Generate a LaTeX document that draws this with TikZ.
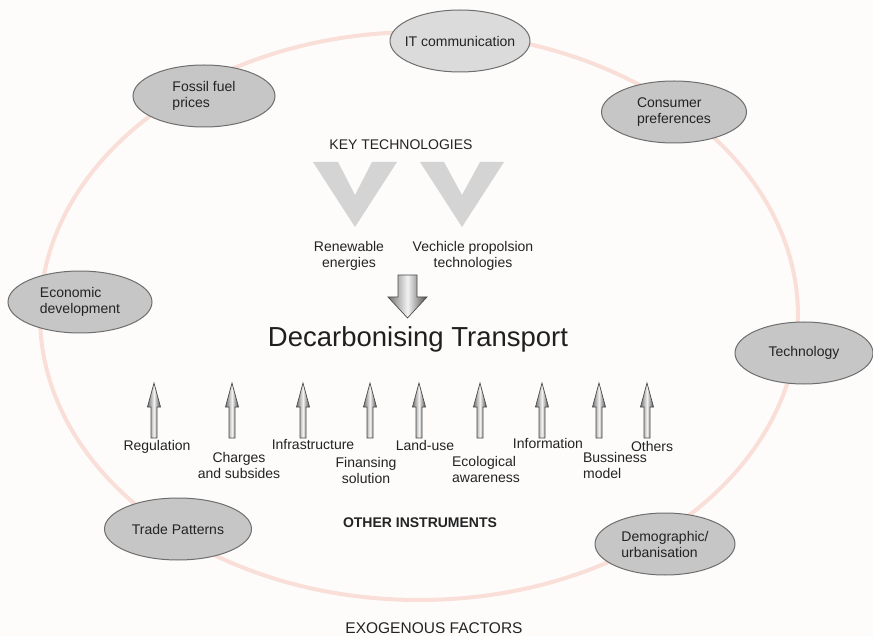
\documentclass[tikz,border=0pt]{standalone}
\usepackage{fontspec}
\setmainfont{Liberation Sans}
\definecolor{ringpink}{RGB}{250,222,216}
\definecolor{factorgray}{RGB}{198,198,198}
\definecolor{factorlight}{RGB}{219,219,219}
\definecolor{factorline}{RGB}{110,110,110}
\definecolor{vgray}{RGB}{212,212,212}
\definecolor{textgray}{RGB}{35,35,35}
\definecolor{paper}{RGB}{253,252,251}
\usetikzlibrary{
  shapes.geometric,
  positioning
}

\begin{document}
\begin{tikzpicture}[x=1pt, y=-1pt,
  factor/.style={ellipse, draw=factorline, fill=factorgray, line width=1pt,
                 inner xsep=-20pt, inner ysep=0pt, minimum height=62pt,
                 align=left, font=\fontsize{14}{16}\selectfont, text=textgray},
  lbl/.style={align=center, inner sep=0pt, font=\fontsize{14}{16}\selectfont, text=textgray},
  blockarrow/.style={draw=black!70, line width=0.7pt,
                     left color=black!55, right color=black!70, middle color=black!5}
]
% canvas
\fill[paper] (0,0) rectangle (873,636);
\useasboundingbox (0,0) rectangle (873,636);

% ring of exogenous factors
\draw[ringpink, line width=4pt] (419,316) ellipse [x radius=379pt, y radius=284pt];

% key technologies
\node[lbl] (keytech) at (401,145) {KEY TECHNOLOGIES};
\fill[vgray] (313,162) -- (338,162) -- (355,195) -- (372,162) -- (397,162) -- (355,227) -- cycle;
\fill[vgray] (420,162) -- (444,162) -- (462,195) -- (480,162) -- (504,162) -- (462,227) -- cycle;
\node[lbl] (renew) at (349,256) {Renewable\\energies};
\node[lbl] (vehicle) at (473,256) {Vechicle propolsion\\technologies};

\shade[blockarrow] (398,275) -- (417,275) -- (417,297) -- (427,297) -- (407.5,318)
  -- (388,297) -- (398,297) -- cycle;

\node[inner sep=0pt, font=\fontsize{27.5}{32}\selectfont, text=black!88] (decarb)
  at (418,339) {Decarbonising Transport};

% other instruments
\foreach \x in {154,232,303,370,419,480,542,599,647}
  \shade[blockarrow] ({\x-3},438) -- ({\x-3},407) -- ({\x-6.5},407) -- (\x,383)
    -- ({\x+6.5},407) -- ({\x+3},407) -- ({\x+3},438) -- cycle;

\node[lbl] (regulation) at (157,447) {Regulation};
\node[lbl] (charges) at (239,465.5) {Charges\\and subsides};
\node[lbl] (infra) at (313,445) {Infrastructure};
\node[lbl] (finance) at (366,470.5) {Finansing\\solution};
\node[lbl] (landuse) at (425,445) {Land-use};
\node[lbl, align=left] (ecology) at (486,469.5) {Ecological\\awareness};
\node[lbl] (information) at (548,443) {Information};
\node[lbl, align=left] (business) at (615,465.5) {Bussiness\\model};
\node[lbl] (others) at (652,446) {Others};

\node[lbl, font=\fontsize{14}{16}\selectfont\bfseries] (otherinst) at (420,523) {OTHER INSTRUMENTS};
\node[lbl, font=\fontsize{15.5}{18}\selectfont] (exogenous) at (434,628) {EXOGENOUS FACTORS};

% exogenous factors
\node[factor, fill=factorlight, minimum width=140pt] (itcomm) at (460,41) {IT communication};
\node[factor, minimum width=142pt] (fossil) at (204,96) {Fossil fuel\\prices};
\node[factor, minimum width=145pt] (consumer) at (674,112) {Consumer\\preferences};
\node[factor, minimum width=144pt] (economic) at (80,302) {Economic\\development};
\node[factor, minimum width=138pt] (technology) at (804,353) {Technology};
\node[factor, minimum width=147pt] (trade) at (178,529) {Trade Patterns};
\node[factor, minimum width=140pt] (demographic) at (665,544) {Demographic/\\urbanisation};
\end{tikzpicture}
\end{document}
